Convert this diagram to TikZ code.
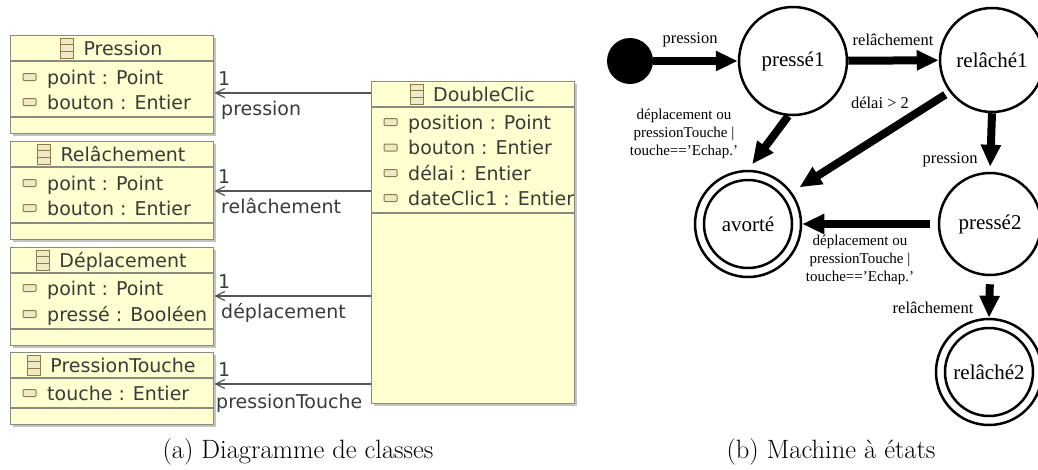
\documentclass[tikz,border=0pt]{standalone}
\usepackage{fontspec}
\usetikzlibrary{arrows.meta,calc}
\newfontfamily\umlfont{DejaVu Sans}
\newfontfamily\smfont{Liberation Serif}
\definecolor{umlfill}{HTML}{FFFFD0}
\definecolor{umlborder}{HTML}{8A8A84}
\definecolor{umltext}{HTML}{3A3A3A}
\definecolor{umlshadow}{HTML}{C4C4C4}
\definecolor{iconline}{HTML}{8C7A48}
\definecolor{iconfill}{HTML}{EFE9C6}
\definecolor{assocline}{HTML}{555555}
% #1 name, #2 left, #3 top, #4 height, #5 header line y, #6 divider y, #7 title
\newcommand\umlbox[7]{%
  \fill[umlshadow] (#2+3,#3+3) rectangle ++(203,#4);
  \node[umlrect, minimum width=203pt, minimum height=#4pt, anchor=north west] (#1) at (#2,#3) {};
  \draw[umlline] (#2,#5) -- ++(203,0);
  \draw[umlline] (#2,#6) -- ++(203,0);
  \node[umltxt, anchor=base] (#1-t) at (#2+113,#3+20.5) {#7};
  \draw[iconst] ($(#1-t.base west)+(-23,-17.5)$) rectangle ($(#1-t.base west)+(-10,2.5)$);
  \draw[iconline, line width=1pt] ($(#1-t.base west)+(-23,-11)$) -- ++(13,0);
  \draw[iconline, line width=1pt] ($(#1-t.base west)+(-23,-4.5)$) -- ++(13,0);
}
% #1 name, #2 box left, #3 baseline, #4 text
\newcommand\umlattr[4]{%
  \node[umltxt, anchor=base west] (#1) at (#2+37,#3) {#4};
  \draw[iconst, rounded corners=1pt] (#2+13,#3-10.5) rectangle (#2+26,#3-3.5);
}
\begin{document}
\begin{tikzpicture}[x=1pt,y=-1pt,
  umlrect/.style={draw=umlborder, fill=umlfill, line width=1.3pt, inner sep=0pt},
  umlline/.style={draw=umlborder, line width=1.3pt},
  umltxt/.style={font=\umlfont\fontsize{19}{22}\selectfont, text=umltext, inner sep=0pt},
  iconst/.style={draw=iconline, fill=iconfill, line width=1pt},
  assoc/.style={draw=assocline, line width=1.3pt, -{Straight Barb[length=9pt,width=9pt]}},
  state/.style={circle, draw, line width=2.5pt, inner sep=0pt, font=\smfont\fontsize{21}{24}\selectfont},
  trans/.style={line width=8pt, -{Triangle[length=22pt,width=19pt]}},
  elabel/.style={font=\smfont\fontsize{16.5}{19}\selectfont, inner sep=0pt},
  mlabel/.style={font=\smfont\fontsize{15}{18}\selectfont, inner sep=0pt, align=center},
  caption/.style={font=\fontsize{26.5}{30}\selectfont, inner sep=0pt}]
\useasboundingbox (0,0) rectangle (1038,469);
\clip (0,0) rectangle (1038,469);

% ---------- class diagram ----------
\umlbox{pr}{10}{35}{98}{61}{117}{Pression}
\umlattr{pr-a1}{10}{84}{point : Point}
\umlattr{pr-a2}{10}{109}{bouton : Entier}

\umlbox{re}{10}{141}{98}{167}{223}{Relâchement}
\umlattr{re-a1}{10}{190}{point : Point}
\umlattr{re-a2}{10}{215}{bouton : Entier}

\umlbox{de}{10}{247}{98}{273}{329}{Déplacement}
\umlattr{de-a1}{10}{295}{point : Point}
\umlattr{de-a2}{10}{321}{pressé : Booléen}

\umlbox{pt}{10}{352}{72}{378}{408}{PressionTouche}
\umlattr{pt-a1}{10}{400}{touche : Entier}

\umlbox{dc}{371}{81}{322}{107}{213}{DoubleClic}
\umlattr{dc-a1}{371}{129}{position : Point}
\umlattr{dc-a2}{371}{154.5}{bouton : Entier}
\umlattr{dc-a3}{371}{180}{délai : Entier}
\umlattr{dc-a4}{371}{205}{dateClic1 : Entier}

\coordinate (y1) at (0,93);
\coordinate (y2) at (0,191);
\coordinate (y3) at (0,296);
\coordinate (y4) at (0,384);
\draw[assoc] (dc.west |- y1) -- (pr.east |- y1);
\draw[assoc] (dc.west |- y2) -- (re.east |- y2);
\draw[assoc] (dc.west |- y3) -- (de.east |- y3);
\draw[assoc] (dc.west |- y4) -- (pt.east |- y4);

\node[umltxt, anchor=base west] (m1) at (218,85) {1};
\node[umltxt, anchor=base west] (r1l) at (221,115) {pression};
\node[umltxt, anchor=base west] (m2) at (218,183) {1};
\node[umltxt, anchor=base west] (r2l) at (221,213) {relâchement};
\node[umltxt, anchor=base west] (m3) at (218,288) {1};
\node[umltxt, anchor=base west] (r3l) at (221,318) {déplacement};
\node[umltxt, anchor=base west] (m4) at (218,376) {1};
\node[umltxt, anchor=base west] (r4l) at (216,408) {pressionTouche};

% ---------- state machine ----------
\node[circle, fill=black, minimum size=46pt, inner sep=0pt] (init) at (630,61) {};
\node[state, minimum size=108pt] (p1) at (793,61) {pressé1};
\node[state, minimum size=104pt] (r1) at (992,60) {relâché1};
\node[state, minimum size=106pt] (av) at (748,224) {};
\node[state, minimum size=88pt] (avi) at (748,224) {avorté};
\node[state, minimum size=102pt] (p2) at (990,224) {pressé2};
\node[state, minimum size=106pt] (r2) at (989,372) {};
\node[state, minimum size=88pt] (r2i) at (989,372) {relâché2};

\draw[trans] (init) -- (p1);
\draw[trans] (p1) -- (r1);
\draw[trans, shorten >=7pt] (p1.265) -- (av.north);
\draw[trans, shorten <=5pt, shorten >=9pt] (r1.217) -- (av.36);
\draw[trans, shorten >=5pt] (r1.south) -- (p2.north);
\draw[trans, shorten <=8pt] (p2.west) -- (av.east);
\draw[trans, shorten <=8pt] (p2.south) -- (r2.north);

\node[elabel, anchor=base] (t1) at (690,43) {pression};
\node[elabel, anchor=base] (t2) at (893,45) {relâchement};
\node[elabel, anchor=base] (t3) at (880,108) {délai > 2};
\node[elabel, anchor=base] (t4) at (950,163) {pression};
\node[elabel, anchor=base] (t5) at (933,313) {relâchement};
\node[mlabel, anchor=north] (t6) at (684,109) {déplacement ou\\pressionTouche |\\touche==’Echap.’};
\node[mlabel, anchor=north] (t7) at (860,235) {déplacement ou\\pressionTouche |\\touche==’Echap.’};

% ---------- captions ----------
\node[caption, anchor=base] (capa) at (298,458) {(a) Diagramme de classes};
\node[caption, anchor=base] (capb) at (831,458) {(b) Machine à états};
\end{tikzpicture}
\end{document}
